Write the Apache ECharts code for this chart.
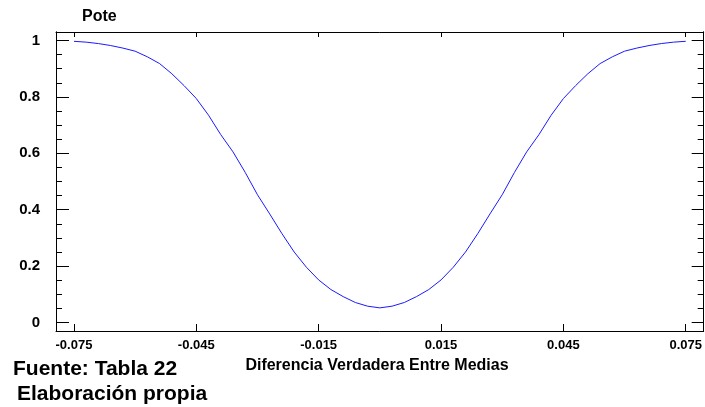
<!DOCTYPE html>
<html>
<head>
<meta charset="utf-8">
<script src="https://cdn.jsdelivr.net/npm/echarts@6/dist/echarts.min.js"></script>
<style>html,body{margin:0;padding:0;background:#fff;}#c{width:705px;height:407px;}</style>
</head>
<body>
<div id="c"></div>
<script>
var xValues = [-0.075,-0.072,-0.069,-0.066,-0.063,-0.060,-0.057,-0.054,-0.051,-0.048,-0.045,-0.042,-0.039,-0.036,-0.033,-0.030,-0.027,-0.024,-0.021,-0.018,-0.015,-0.012,-0.009,-0.006,-0.003,0,
  0.003,0.006,0.009,0.012,0.015,0.018,0.021,0.024,0.027,0.030,0.033,0.036,0.039,0.042,0.045,0.048,0.051,0.054,0.057,0.060,0.063,0.066,0.069,0.072,0.075];
var powerValues = [0.997,0.994,0.989,0.982,0.973,0.962,0.942,0.918,0.882,0.840,0.794,0.735,0.666,0.605,0.532,0.453,0.385,0.315,0.250,0.196,0.151,0.117,0.092,0.071,0.058,0.052,
  0.058,0.071,0.092,0.117,0.151,0.196,0.250,0.315,0.385,0.453,0.532,0.605,0.666,0.735,0.794,0.840,0.882,0.918,0.942,0.962,0.973,0.982,0.989,0.994,0.997];
var xTicks = [-0.075,-0.045,-0.015,0.015,0.045,0.075];
var yTicks = [0,0.2,0.4,0.6,0.8,1];
var yMinorTicks = [0.05,0.1,0.15,0.25,0.3,0.35,0.45,0.5,0.55,0.65,0.7,0.75,0.85,0.9,0.95];
var yTitle = 'Pote';
var xTitle = 'Diferencia Verdadera Entre Medias';
var note1 = 'Fuente: Tabla 22';
var note2 = 'Elaboración propia';

var FONT = '"Liberation Sans", Arial, sans-serif';
var XMIN = -0.0794, XMAX = 0.0794, YMIN = -0.03, YMAX = 1.03;
var lineBlack = {show: true, onZero: false, lineStyle: {color: '#000', width: 1}};

var chart = echarts.init(document.getElementById('c'), null, {renderer: 'canvas'});
var data = xValues.map(function (x, i) { return [x, powerValues[i]]; });

function yAxisDef(pos, values, len, labels) {
  return {
    type: 'value', position: pos, min: YMIN, max: YMAX,
    axisLine: lineBlack,
    axisTick: {show: true, inside: true, length: len, customValues: values, lineStyle: {color: '#000', width: 1}},
    axisLabel: labels ? {show: true, customValues: values, margin: 16, color: '#000', fontFamily: FONT, fontWeight: 'bold', fontSize: 15,
      formatter: function (v) { return String(+v.toFixed(2)); }} : {show: false},
    splitLine: {show: false}
  };
}

chart.setOption({
  animation: false,
  grid: {left: 56, right: 0, top: 32, bottom: 76, containLabel: false},
  xAxis: [
    {type: 'value', position: 'bottom', min: XMIN, max: XMAX,
     axisLine: lineBlack,
     axisTick: {show: true, inside: true, length: 7, customValues: xTicks, lineStyle: {color: '#000', width: 1}},
     axisLabel: {show: true, customValues: xTicks, margin: 8, color: '#000', fontFamily: FONT, fontWeight: 'bold', fontSize: 13,
       formatter: function (v) { return v.toFixed(3); }},
     splitLine: {show: false}},
    {type: 'value', position: 'top', min: XMIN, max: XMAX,
     axisLine: lineBlack,
     axisTick: {show: true, inside: true, length: 5, customValues: xTicks, lineStyle: {color: '#000', width: 1}},
     axisLabel: {show: false}, splitLine: {show: false}}
  ],
  yAxis: [
    yAxisDef('left', yTicks, 13, true),
    yAxisDef('left', yMinorTicks, 6, false),
    yAxisDef('right', yTicks, 12, false),
    yAxisDef('right', yMinorTicks, 6, false)
  ],
  series: [{
    type: 'line', xAxisIndex: 0, yAxisIndex: 0, data: data,
    showSymbol: false, smooth: false,
    lineStyle: {color: '#1a1aff', width: 1}
  }],
  graphic: [
    {type: 'text', x: 82, y: 17, style: {text: yTitle, font: 'bold 16px ' + FONT, fill: '#000', align: 'left', verticalAlign: 'middle'}},
    {type: 'text', x: 377, y: 366, style: {text: xTitle, font: 'bold 16px ' + FONT, fill: '#000', align: 'center', verticalAlign: 'middle'}},
    {type: 'text', x: 13, y: 369, style: {text: note1, font: 'bold 21px ' + FONT, fill: '#000', align: 'left', verticalAlign: 'middle'}},
    {type: 'text', x: 17, y: 394, style: {text: note2, font: 'bold 21px ' + FONT, fill: '#000', align: 'left', verticalAlign: 'middle'}}
  ]
});
</script>
</body>
</html>
